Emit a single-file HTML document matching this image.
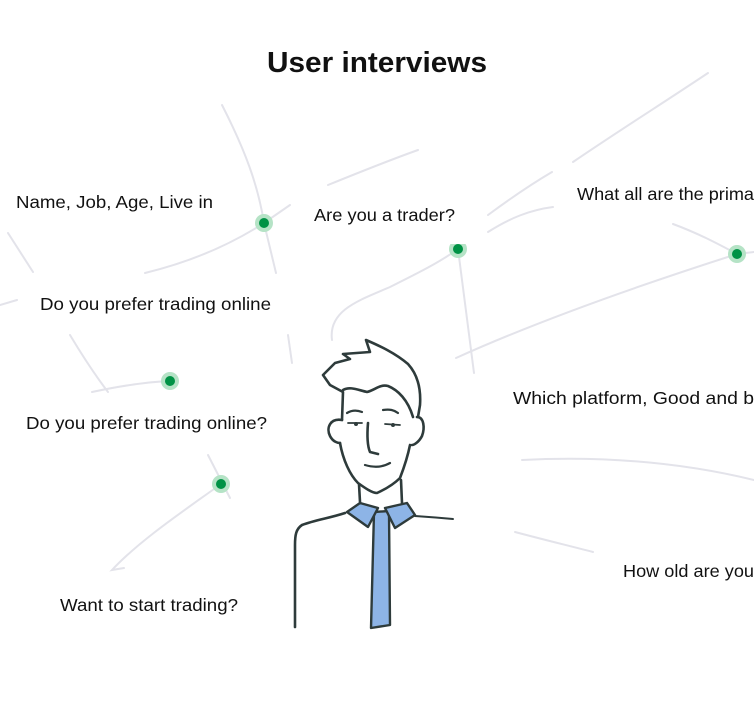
<!DOCTYPE html>
<html><head><meta charset="utf-8"><style>
html,body{margin:0;padding:0;background:#fff;width:754px;height:702px;overflow:hidden}
svg{display:block}
text{font-family:"Liberation Sans",sans-serif;fill:#111;font-size:17.5px}
</style></head><body>
<svg width="754" height="702" viewBox="0 0 754 702" xmlns="http://www.w3.org/2000/svg">
<g fill="none" stroke="#e3e3ea" stroke-width="2" stroke-linecap="round">
<path d="M222,105 C245,150 258,185 264,223 L276,273"/>
<path d="M145,273 C190,262 230,245 264,223 L290,205"/>
<path d="M328,185 C360,172 390,160 418,150"/>
<path d="M8,233 L33,272"/>
<path d="M0,305 L17,300"/>
<path d="M288,335 L292,363"/>
<path d="M70,335 C82,355 95,375 108,392"/>
<path d="M92,392 C120,386 145,382 170,381"/>
<path d="M332,340 C328,310 360,300 390,287 C420,272 440,262 458,249 L474,373"/>
<path d="M488,215 C515,195 535,182 552,172"/>
<path d="M573,162 C620,130 660,105 708,73"/>
<path d="M488,232 C510,218 530,210 553,207"/>
<path d="M673,224 C700,234 720,245 737,254 L754,252"/>
<path d="M737,254 C640,285 540,320 456,358"/>
<path d="M208,455 L230,498"/>
<path d="M221,484 C185,510 140,540 112,570 L124,568"/>
<path d="M522,460 C600,456 680,462 754,480"/>
<path d="M515,532 C545,540 570,546 593,552"/>
</g>
<g>
<circle cx="264" cy="223" r="9" fill="#b5e3c6"/><circle cx="264" cy="223" r="5" fill="#009245"/>
<circle cx="458" cy="249" r="9" fill="#b5e3c6"/><circle cx="458" cy="249" r="5" fill="#009245"/>
<circle cx="737" cy="254" r="9" fill="#b5e3c6"/><circle cx="737" cy="254" r="5" fill="#009245"/>
<circle cx="170" cy="381" r="9" fill="#b5e3c6"/><circle cx="170" cy="381" r="5" fill="#009245"/>
<circle cx="221" cy="484" r="9" fill="#b5e3c6"/><circle cx="221" cy="484" r="5" fill="#009245"/>
</g>
<rect x="440" y="232" width="36" height="12" fill="#fff"/>
<text x="377" y="72" text-anchor="middle" font-weight="bold" style="font-size:29px" textLength="220" lengthAdjust="spacingAndGlyphs">User interviews</text>
<text x="16" y="208" textLength="197" lengthAdjust="spacingAndGlyphs">Name, Job, Age, Live in</text>
<text x="314" y="221" textLength="141" lengthAdjust="spacingAndGlyphs">Are you a trader?</text>
<text x="577" y="200" textLength="177" lengthAdjust="spacingAndGlyphs">What all are the prima</text>
<text x="40" y="310" textLength="231" lengthAdjust="spacingAndGlyphs">Do you prefer trading online</text>
<text x="26" y="429" textLength="241" lengthAdjust="spacingAndGlyphs">Do you prefer trading online?</text>
<text x="513" y="404" textLength="241" lengthAdjust="spacingAndGlyphs">Which platform, Good and b</text>
<text x="623" y="577" textLength="131" lengthAdjust="spacingAndGlyphs">How old are you</text>
<text x="60" y="611" textLength="178" lengthAdjust="spacingAndGlyphs">Want to start trading?</text>
<g fill="none" stroke="#2e3b3b" stroke-width="2.6" stroke-linecap="round" stroke-linejoin="round">
<path d="M342,420 L343,392 L330,385 L323,375 L335,363 L350,359 L343,354 L370,352 L366,340 C380,346 395,353 408,364 C418,375 421,390 420,405 L418,417"/>
<path d="M343,390 C350,386 358,390 367,392 C375,390 380,384 388,386 C398,390 408,400 413,417"/>
<path d="M342,420 C330,418 326,428 330,436 C333,442 338,443 340,443"/>
<path d="M417,417 C424,417 425,428 422,436 C419,442 414,445 412,445"/>
<path d="M340,443 C343,460 350,475 358,483 C365,488 372,493 377,493 C388,488 396,482 400,478 C405,465 408,455 410,445"/>
<path d="M359,484 L360,502"/>
<path d="M401,480 L402,503"/>
<path d="M368,423 C367,435 367,445 370,452 L378,454"/>
<path d="M365,465 C375,468 383,467 390,463" stroke-width="2.2"/>
<path d="M347,413 C352,410 357,410 362,412" stroke-width="2.2"/>
<path d="M383,410 C390,409 394,410 398,413" stroke-width="2.2"/>
<path d="M348,423 L362,423 M385,424 L400,425" stroke-width="1.8"/>
<path d="M345,513 C330,518 315,520 302,525 C296,529 295,535 295,545 L295,627"/>
<path d="M415,516 C430,517 442,518 453,519" stroke-width="2"/>
</g>
<circle cx="356" cy="424" r="2" fill="#2e3b3b"/><circle cx="393" cy="425" r="2" fill="#2e3b3b"/>
<g stroke="#2e3b3b" stroke-width="2.4" stroke-linejoin="round" fill="#8db4e6">
<path d="M374,512 L389,511 L390,625 L371,628 Z"/>
<path d="M347,512 L360,503 L378,508 L368,527 Z"/>
<path d="M385,508 L407,503 L415,515 L395,528 Z"/>
</g>
</svg>
</body></html>
